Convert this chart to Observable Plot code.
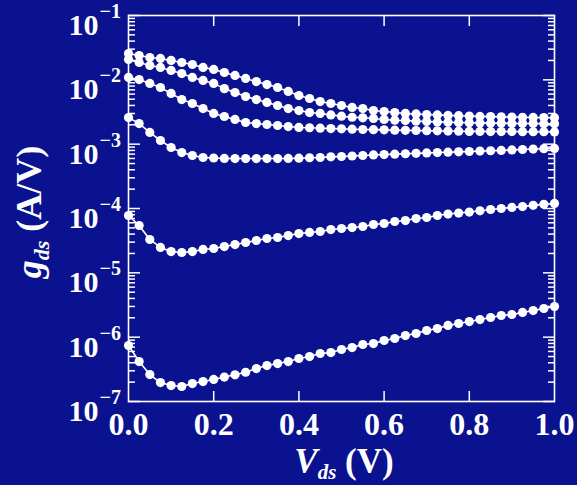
<!DOCTYPE html>
<html>
<head>
<meta charset="utf-8">
<script src="https://cdn.jsdelivr.net/npm/d3@7"></script>
<script src="https://cdn.jsdelivr.net/npm/@observablehq/plot@0.6"></script>
<style>
  html, body { margin: 0; padding: 0; background: #0a1290; }
  #chart { width: 577px; height: 485px; }
</style>
</head>
<body>
<div id="chart"></div>
<script>
// ---- data ----
const vds = [0, 0.025, 0.05, 0.075, 0.1, 0.125, 0.15, 0.175, 0.2, 0.225, 0.25, 0.275, 0.3, 0.325, 0.35, 0.375, 0.4, 0.425, 0.45, 0.475, 0.5, 0.525, 0.55, 0.575, 0.6, 0.625, 0.65, 0.675, 0.7, 0.725, 0.75, 0.775, 0.8, 0.825, 0.85, 0.875, 0.9, 0.925, 0.95, 0.975, 1.0];

const g1 = [2.56e-2, 2.39e-2, 2.22e-2, 2.15e-2, 2.0e-2, 1.86e-2, 1.73e-2, 1.56e-2, 1.45e-2, 1.30e-2, 1.17e-2, 1.05e-2, 9.4e-3, 8.45e-3, 7.6e-3, 6.6e-3, 5.7e-3, 5.13e-3, 4.6e-3, 4.29e-3, 3.99e-3, 3.72e-3, 3.58e-3, 3.33e-3, 3.22e-3, 3.10e-3, 3.0e-3, 2.95e-3, 2.89e-3, 2.85e-3, 2.80e-3, 2.77e-3, 2.74e-3, 2.70e-3, 2.68e-3, 2.66e-3, 2.64e-3, 2.62e-3, 2.60e-3, 2.59e-3, 2.58e-3];
const g2 = [2.07e-2, 1.86e-2, 1.67e-2, 1.56e-2, 1.40e-2, 1.25e-2, 1.09e-2, 9.8e-3, 8.8e-3, 7.3e-3, 6.35e-3, 5.5e-3, 4.94e-3, 4.45e-3, 3.99e-3, 3.58e-3, 3.33e-3, 3.10e-3, 3.0e-3, 2.85e-3, 2.72e-3, 2.62e-3, 2.57e-3, 2.51e-3, 2.42e-3, 2.36e-3, 2.33e-3, 2.28e-3, 2.25e-3, 2.22e-3, 2.19e-3, 2.17e-3, 2.15e-3, 2.14e-3, 2.12e-3, 2.11e-3, 2.10e-3, 2.09e-3, 2.09e-3, 2.08e-3, 2.08e-3];
const g3 = [1.09e-2, 1.01e-2, 8.8e-3, 7.6e-3, 6.14e-3, 4.94e-3, 4.29e-3, 3.58e-3, 3.0e-3, 2.69e-3, 2.42e-3, 2.17e-3, 2.09e-3, 2.02e-3, 1.95e-3, 1.88e-3, 1.82e-3, 1.80e-3, 1.77e-3, 1.75e-3, 1.73e-3, 1.71e-3, 1.69e-3, 1.68e-3, 1.67e-3, 1.65e-3, 1.64e-3, 1.63e-3, 1.62e-3, 1.61e-3, 1.60e-3, 1.59e-3, 1.58e-3, 1.58e-3, 1.57e-3, 1.57e-3, 1.57e-3, 1.56e-3, 1.56e-3, 1.56e-3, 1.55e-3];
const g4 = [2.59e-3, 2.09e-3, 1.52e-3, 1.14e-3, 8.87e-4, 7.41e-4, 6.67e-4, 6.21e-4, 6.1e-4, 6.0e-4, 5.98e-4, 5.98e-4, 5.98e-4, 5.98e-4, 5.98e-4, 6.0e-4, 6.05e-4, 6.15e-4, 6.21e-4, 6.35e-4, 6.43e-4, 6.55e-4, 6.67e-4, 6.8e-4, 6.9e-4, 7.0e-4, 7.1e-4, 7.2e-4, 7.3e-4, 7.41e-4, 7.5e-4, 7.6e-4, 7.69e-4, 7.8e-4, 7.9e-4, 8.0e-4, 8.15e-4, 8.26e-4, 8.4e-4, 8.5e-4, 8.6e-4];
const g5 = [7.78e-5, 5.44e-5, 3.30e-5, 2.48e-5, 2.14e-5, 2.07e-5, 2.14e-5, 2.31e-5, 2.39e-5, 2.56e-5, 2.75e-5, 2.96e-5, 3.18e-5, 3.42e-5, 3.54e-5, 3.80e-5, 4.08e-5, 4.24e-5, 4.39e-5, 4.71e-5, 4.89e-5, 5.06e-5, 5.25e-5, 5.64e-5, 5.85e-5, 6.28e-5, 6.50e-5, 6.98e-5, 7.24e-5, 7.78e-5, 8.2e-5, 8.5e-5, 8.8e-5, 9.2e-5, 9.64e-5, 1.0e-4, 1.04e-4, 1.07e-4, 1.12e-4, 1.16e-4, 1.20e-4];
const g6 = [7.41e-7, 4.18e-7, 2.62e-7, 1.97e-7, 1.77e-7, 1.71e-7, 1.90e-7, 2.04e-7, 2.2e-7, 2.4e-7, 2.6e-7, 2.85e-7, 3.25e-7, 3.62e-7, 3.89e-7, 4.18e-7, 4.66e-7, 5.0e-7, 5.57e-7, 5.77e-7, 6.43e-7, 6.90e-7, 7.69e-7, 7.96e-7, 8.87e-7, 9.53e-7, 1.06e-6, 1.14e-6, 1.27e-6, 1.36e-6, 1.52e-6, 1.63e-6, 1.75e-6, 1.88e-6, 2.02e-6, 2.17e-6, 2.25e-6, 2.42e-6, 2.59e-6, 2.79e-6, 2.99e-6];

const xTicks = [0.2, 0.4, 0.6, 0.8];
const xTickLabels = [0.0, 0.2, 0.4, 0.6, 0.8, 1.0];
const yDecades = [1e-7, 1e-6, 1e-5, 1e-4, 1e-3, 1e-2, 1e-1];
const yExponents = ["\u22127", "\u22126", "\u22125", "\u22124", "\u22123", "\u22122", "\u22121"];
const minorMultipliers = [2, 3, 4, 5, 6, 7, 8, 9];

// ---- build tables ----
const series = [g1, g2, g3, g4, g5, g6];
const rows = series.flatMap((g, s) => g.map((v, i) => ({vds: vds[i], g: v, s})));
const yMinor = yDecades.slice(0, -1).flatMap(d => minorMultipliers.map(k => k * d));
const yLabels = yDecades.map((d, i) => ({d, e: yExponents[i]}));

const BG = "#0a1290";
const SERIF = "'Liberation Serif', 'Times New Roman', Times, serif";

const tickStyle = {stroke: "white", strokeWidth: 1.5, tickFormat: () => "", label: null};

const chart = Plot.plot({
  width: 577,
  height: 485,
  marginLeft: 128,
  marginRight: 23,
  marginTop: 15,
  marginBottom: 84,
  style: {background: BG, color: "white", fontFamily: SERIF},
  x: {domain: [0, 1], axis: null, label: null},
  y: {type: "log", domain: [1e-7, 1e-1], axis: null, label: null},
  marks: [
    Plot.axisY({anchor: "left", ticks: yMinor, tickSize: -7, ...tickStyle}),
    Plot.axisY({anchor: "right", ticks: yMinor, tickSize: -7, ...tickStyle}),
    Plot.axisY({anchor: "left", ticks: yDecades, tickSize: -12, ...tickStyle}),
    Plot.axisY({anchor: "right", ticks: yDecades, tickSize: -12, ...tickStyle}),
    Plot.axisX({anchor: "bottom", ticks: xTicks, tickSize: -10, ...tickStyle}),
    Plot.axisX({anchor: "top", ticks: xTicks, tickSize: -10, ...tickStyle}),
    Plot.frame({stroke: "white", strokeWidth: 1.6}),
    Plot.text(xTickLabels, {
      x: d => d, frameAnchor: "bottom", text: d => d.toFixed(1),
      fontSize: 32, fontWeight: "bold", fill: "white", lineAnchor: "middle", dy: 23
    }),
    Plot.text(yLabels, {
      y: "d", frameAnchor: "left", text: () => "10", textAnchor: "end",
      fontSize: 30, fontWeight: "bold", fill: "white", lineAnchor: "middle", dx: -30, dy: 10
    }),
    Plot.text(yLabels, {
      y: "d", frameAnchor: "left", text: "e", textAnchor: "start",
      fontSize: 20, fontWeight: "bold", fill: "white", lineAnchor: "middle", dx: -29, dy: -4
    }),
    Plot.line(rows, {x: "vds", y: "g", z: "s", stroke: "white", strokeWidth: 1.6}),
    Plot.dot(rows, {x: "vds", y: "g", r: 4.6, fill: "white", stroke: "none"})
  ]
});

// axis titles with italic subscripted symbols
const svg = d3.select(chart);
const yt = svg.append("text")
  .attr("transform", "translate(41,212) rotate(-90)")
  .attr("text-anchor", "middle")
  .attr("fill", "white")
  .style("font-family", SERIF).style("font-weight", "bold").style("font-size", "36px");
yt.append("tspan").style("font-style", "italic").text("g");
yt.append("tspan").attr("dy", 8).style("font-style", "italic").style("font-size", "22px").text("ds");
yt.append("tspan").attr("dy", -8).text(" (A/V)");

const xt = svg.append("text")
  .attr("transform", "translate(344,473)")
  .attr("text-anchor", "middle")
  .attr("fill", "white")
  .style("font-family", SERIF).style("font-weight", "bold").style("font-size", "35px");
xt.append("tspan").style("font-style", "italic").text("V");
xt.append("tspan").attr("dy", 6).style("font-style", "italic").style("font-size", "21px").text("ds");
xt.append("tspan").attr("dy", -6).text(" (V)");

document.getElementById("chart").append(chart);
</script>
</body>
</html>
